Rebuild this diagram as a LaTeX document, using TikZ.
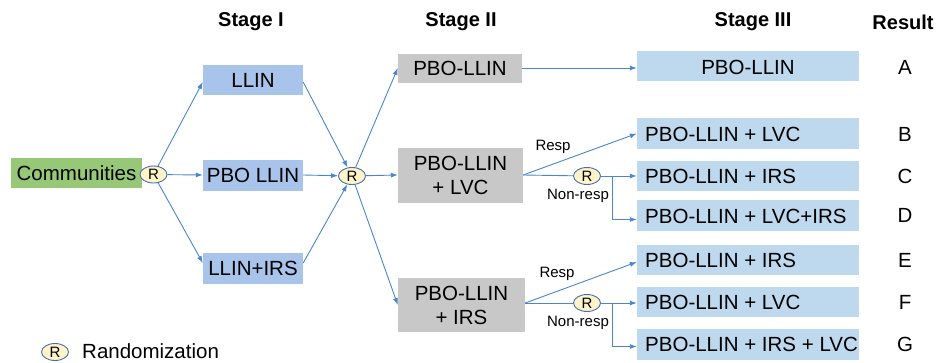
\documentclass[tikz,border=0pt]{standalone}
\usepackage{fontspec}
\setmainfont{Liberation Sans}
\usetikzlibrary{arrows.meta,shapes.geometric}
\definecolor{arrc}{RGB}{74,134,204}
\definecolor{greenbox}{RGB}{150,200,120}
\definecolor{blueone}{RGB}{168,196,234}
\definecolor{bluethree}{RGB}{190,216,238}
\definecolor{graybox}{RGB}{200,200,200}
\definecolor{rfill}{RGB}{255,243,200}
\definecolor{rline}{RGB}{70,110,180}
\tikzset{
  main/.style={font=\fontsize{20.5}{24}\selectfont},
  head/.style={font=\fontsize{20}{22}\selectfont\bfseries},
  small/.style={font=\fontsize{15}{17}\selectfont},
  rnode/.style={ellipse, draw=rline, line width=0.9pt, fill=rfill, minimum width=27pt, minimum height=17pt, inner sep=0pt, font=\fontsize{15}{15}\selectfont},
  boxone/.style={main, fill=blueone, minimum width=100pt, minimum height=30pt, inner sep=0pt},
  boxtwo/.style={main, fill=graybox, align=center, inner sep=0pt},
  boxthree/.style={fill=bluethree, minimum width=222pt, minimum height=30pt, inner sep=0pt},
  lab/.style={main, anchor=west, inner sep=0pt},
  arr/.style={draw=arrc, line width=0.9pt, -{Latex[length=7pt,width=5pt]}},
  ln/.style={draw=arrc, line width=0.9pt},
}
\begin{document}
\begin{tikzpicture}[x=1pt,y=-1pt]
\useasboundingbox (0,0) rectangle (941,362);
% headers
\node[head] (h1) at (251,22) {Stage I};
\node[head] (h2) at (461,22) {Stage II};
\node[head] (h3) at (753,22) {Stage III};
\node[head] (h4) at (903,22) {Result};
% communities
\node[main, fill=greenbox, minimum width=131pt, minimum height=30pt, inner sep=0pt] (com) at (76.5,173) {Communities};
\node[rnode] (r1) at (153.5,174.5) {R};
% stage I
\node[boxone] (llin) at (253,80) {LLIN};
\node[boxone, minimum height=31pt] (pbo) at (253,175) {PBO LLIN};
\node[boxone, minimum height=31pt] (irs) at (253,268) {LLIN+IRS};
\node[rnode] (r2) at (352,176) {R};
% stage II
\node[boxtwo, minimum width=124pt, minimum height=29pt] (g1) at (460,68) {PBO-LLIN};
\node[boxtwo, minimum width=125pt, minimum height=55pt] (lvc) at (460.5,175) {PBO-LLIN\\+ LVC};
\node[boxtwo, minimum width=127pt, minimum height=54pt] (irs2) at (461.5,305) {PBO-LLIN\\+ IRS};
\node[rnode] (r3) at (587,176) {R};
\node[rnode] (r4) at (587,303) {R};
% stage III
\node[boxthree] (A) at (748,66) {};
\node[main] (At) at (748,67) {PBO-LLIN};
\node[boxthree, minimum height=31pt] (B) at (748,133.5) {};
\node[lab] (Bt) at (645,134) {PBO-LLIN + LVC};
\node[boxthree] (C) at (748,176) {};
\node[lab] (Ct) at (645,176) {PBO-LLIN + IRS};
\node[boxthree, minimum height=31pt] (D) at (748,215.5) {};
\node[lab] (Dt) at (645,216) {PBO-LLIN + LVC+IRS};
\node[boxthree] (E) at (748,260) {};
\node[lab] (Et) at (645,260) {PBO-LLIN + IRS};
\node[boxthree] (F) at (748,302) {};
\node[lab] (Ft) at (645,302) {PBO-LLIN + LVC};
\node[boxthree, minimum height=31pt] (G) at (748,344.5) {};
\node[lab] (Gt) at (645,344.5) {PBO-LLIN + IRS + LVC};
% results
\node[main] (ra) at (905,67) {A};
\node[main] (rb) at (905,134) {B};
\node[main] (rc) at (905,176) {C};
\node[main] (rd) at (905,215) {D};
\node[main] (re) at (905,260) {E};
\node[main] (rf) at (905,302) {F};
\node[main] (rg) at (905,344) {G};
% labels
\node[small] (l1) at (553,147) {Resp};
\node[small] (l2) at (578,196) {Non-resp};
\node[small] (l3) at (557,274) {Resp};
\node[small] (l4) at (578,323) {Non-resp};
% legend
\node[rnode] (rl) at (55,352) {R};
\node[main, anchor=west, inner sep=0pt] (leg) at (82,351) {Randomization};
% connectors
\draw[arr] (r1) -- ([yshift=-2pt]llin.west);
\draw[arr] (r1) -- (pbo.west);
\draw[arr] (r1) -- ([yshift=5pt]irs.west);
\draw[arr] ([yshift=-2pt]llin.east) -- (r2);
\draw[arr] (pbo.east) -- (r2);
\draw[arr] ([yshift=5pt]irs.east) -- (r2);
\draw[arr] (r2) -- (g1.west);
\draw[arr] (r2) -- (lvc.west);
\draw[arr] (r2) -- (irs2.west);
\draw[arr] (g1.east) -- ([yshift=-2pt]A.west);
\coordinate (j1) at (612,176);
\coordinate (j2) at (612,303);
\draw[arr] (lvc.east) -- (B.west);
\draw[ln] (lvc.east) -- (r3);
\draw[arr] (r3) -- (C.west);
\draw[arr] (j1) |- ([yshift=-4pt]D.west);
\draw[arr] ([yshift=2pt]irs2.east) -- ([yshift=-2pt]E.west);
\draw[ln] ([yshift=2pt]irs2.east) -- (r4);
\draw[arr] (r4) -- (F.west |- r4);
\draw[arr] (j2) |- ([yshift=-2pt]G.west);
\end{tikzpicture}
\end{document}
